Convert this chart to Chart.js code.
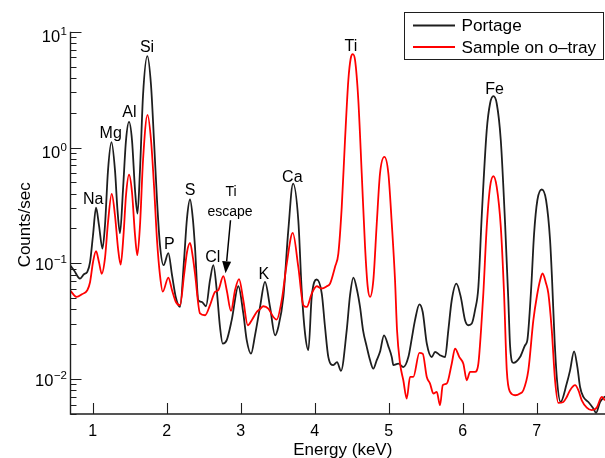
<!DOCTYPE html>
<html><head><meta charset="utf-8">
<script src="https://cdn.jsdelivr.net/npm/chart.js@4/dist/chart.umd.min.js"></script>
<style>html,body{margin:0;padding:0;background:#fff;}canvas{display:block;}</style>
</head><body>
<canvas id="c" width="605" height="458"></canvas>
<script>
// ---- data ----
const portageEnergy = [0.70,0.747,0.828,0.882,0.927,0.964,1.004,1.045,1.085,1.132,1.166,1.207,1.254,1.301,1.335,1.369,1.409,1.450,1.491,1.531,1.572,1.605,1.639,1.680,1.738,1.788,1.828,1.869,1.909,1.957,2.022,2.072,2.126,2.180,2.234,2.274,2.315,2.355,2.382,2.427,2.473,2.531,2.585,2.630,2.676,2.720,2.757,2.811,2.878,2.968,3.035,3.081,3.139,3.193,3.261,3.328,3.396,3.464,3.508,3.576,3.643,3.707,3.778,3.824,3.869,3.914,3.959,4.027,4.095,4.139,4.184,4.251,4.301,4.355,4.432,4.477,4.522,4.572,4.612,4.653,4.703,4.747,4.792,4.838,4.882,4.936,4.995,5.041,5.062,5.130,5.197,5.265,5.311,5.355,5.414,5.459,5.514,5.581,5.626,5.693,5.761,5.805,5.851,5.914,5.973,6.031,6.076,6.122,6.166,6.211,6.257,6.324,6.369,6.414,6.459,6.514,6.572,6.616,6.639,6.684,6.774,6.842,6.873,6.923,6.964,7.008,7.068,7.126,7.180,7.207,7.241,7.274,7.322,7.405,7.450,7.504,7.549,7.585,7.630,7.697,7.765,7.801,7.855,7.922];
const portageCounts = [0.0950,0.0872,0.0739,0.0805,0.0843,0.1022,0.1748,0.302,0.213,0.134,0.213,0.637,1.111,0.637,0.287,0.182,0.428,1.156,1.664,1.156,0.428,0.269,0.637,2.829,6.143,3.451,1.156,0.3505,0.1433,0.0963,0.1223,0.0789,0.0499,0.0420,0.1064,0.245,0.3556,0.2356,0.1385,0.0480,0.0464,0.0426,0.0715,0.0963,0.0586,0.0282,0.0203,0.0217,0.0323,0.0634,0.0369,0.0217,0.0166,0.0239,0.0420,0.0691,0.0420,0.0239,0.0282,0.0513,0.1932,0.487,0.2356,0.0586,0.0248,0.0178,0.0513,0.0725,0.0548,0.0282,0.0155,0.0132,0.0140,0.0118,0.0264,0.0530,0.0754,0.0586,0.0420,0.0264,0.0190,0.0146,0.0123,0.0146,0.0172,0.0239,0.0192,0.0155,0.0132,0.0136,0.0127,0.0155,0.0224,0.0323,0.0443,0.0380,0.0203,0.0155,0.0172,0.0161,0.0155,0.0264,0.0480,0.0669,0.0513,0.0323,0.0292,0.0302,0.0394,0.0625,0.260,1.411,2.399,2.773,2.399,1.156,0.2207,0.0480,0.0196,0.0138,0.0155,0.0196,0.0217,0.0586,0.181,0.3505,0.434,0.3505,0.1583,0.0715,0.0217,0.00978,0.00635,0.00916,0.0119,0.0174,0.0127,0.00856,0.00702,0.00635,0.00557,0.00511,0.00635,0.00712];
const sampleEnergy = [0.70,0.784,0.855,0.927,0.964,1.004,1.045,1.085,1.122,1.166,1.207,1.257,1.301,1.342,1.378,1.416,1.450,1.491,1.531,1.572,1.603,1.639,1.680,1.741,1.788,1.828,1.869,1.909,1.946,2.022,2.072,2.126,2.180,2.234,2.274,2.315,2.355,2.382,2.450,2.518,2.585,2.653,2.697,2.765,2.811,2.869,2.923,2.977,3.035,3.095,3.149,3.216,3.261,3.305,3.373,3.441,3.486,3.554,3.622,3.703,3.778,3.846,3.892,3.959,4.027,4.095,4.162,4.207,4.274,4.319,4.365,4.409,4.454,4.486,4.514,4.545,4.589,4.635,4.680,4.716,4.747,4.792,4.838,4.882,4.941,4.995,5.041,5.085,5.112,5.153,5.197,5.243,5.288,5.332,5.414,5.459,5.514,5.558,5.603,5.649,5.693,5.730,5.784,5.851,5.896,5.954,6.008,6.054,6.099,6.166,6.211,6.247,6.278,6.324,6.369,6.414,6.459,6.514,6.558,6.595,6.639,6.707,6.774,6.819,6.886,6.954,7.004,7.045,7.078,7.126,7.157,7.203,7.247,7.292,7.359,7.405,7.450,7.518,7.562,7.608,7.676,7.743,7.811,7.878,7.922];
const sampleCounts = [0.0578,0.0513,0.0541,0.0586,0.0687,0.1022,0.1272,0.1022,0.0813,0.1107,0.2264,0.3975,0.260,0.135,0.0976,0.1748,0.3873,0.582,0.411,0.1748,0.1175,0.213,0.777,1.912,1.156,0.4726,0.1583,0.0789,0.0569,0.0754,0.0586,0.0461,0.0435,0.0789,0.1247,0.150,0.1107,0.0817,0.0369,0.0356,0.0435,0.0566,0.0586,0.0774,0.0586,0.0388,0.0586,0.0729,0.0480,0.0292,0.0323,0.0380,0.0402,0.0426,0.0407,0.0344,0.0327,0.0480,0.0996,0.183,0.0931,0.0435,0.0420,0.0548,0.0634,0.0606,0.0634,0.0669,0.0931,0.1215,0.307,1.156,3.813,5.869,6.393,5.674,2.561,0.5963,0.1385,0.0625,0.0513,0.0715,0.2207,0.5963,0.8295,0.5963,0.2207,0.0715,0.0264,0.0136,0.00978,0.00680,0.01045,0.01045,0.01684,0.0166,0.01045,0.00916,0.00751,0.00775,0.00595,0.00886,0.00916,0.0136,0.01837,0.0155,0.0136,0.00978,0.01154,0.01154,0.0136,0.0264,0.0548,0.2062,0.4568,0.565,0.4568,0.2062,0.0548,0.0119,0.00775,0.00726,0.00751,0.00802,0.0119,0.0323,0.0530,0.0715,0.0817,0.0669,0.0548,0.0264,0.00978,0.00623,0.00635,0.00702,0.00802,0.00886,0.00802,0.00657,0.00568,0.00539,0.00568,0.00702,0.00657];
const seriesNames = ['Portage', 'Sample on o\u2013tray'];
const xTickValues = [1, 2, 3, 4, 5, 6, 7];
const yTickExponents = [-2, -1, 0, 1];
const peakLabels = ['Na', 'Mg', 'Al', 'Si', 'P', 'S', 'Cl', 'K', 'Ca', 'Ti', 'Fe'];
const peakLabelEnergy = [1.008, 1.243, 1.495, 1.734, 2.035, 2.315, 2.622, 3.311, 3.697, 4.489, 6.430];
const peakLabelCounts = [0.365, 1.356, 2.07, 7.53, 0.149, 0.436, 0.1163, 0.0817, 0.568, 7.65, 3.232];
const escapeLines = ['Ti', 'escape'];
const escapeEnergy = [2.869, 2.855];
const escapeCounts = [0.4218, 0.2818];
const arrowEnergy = [2.862, 2.795];   // tail, head
const arrowCounts = [0.2356, 0.0821];
const xTitle = 'Energy (keV)';
const yTitle = 'Counts/sec';

// ---- drawing ----
const FONT = '"Liberation Sans", Arial, Helvetica, sans-serif';
const INK = '#1e1e1e';
const colors = ['#1e1e1e', '#ff0000'];

const overlay = {
  id: 'overlay',
  afterDraw(chart) {
    const {ctx, chartArea: a, scales: {x, y}} = chart;
    ctx.save();
    ctx.strokeStyle = INK;
    ctx.fillStyle = '#000';
    // y ticks (major + minor), pointing inward
    ctx.lineWidth = 1.1;
    ctx.beginPath();
    for (let e = -3; e <= 1; e++) {
      for (let m = 1; m <= 9; m++) {
        const v = m * Math.pow(10, e);
        if (v < y.min * 0.999 || v > y.max * 1.001) continue;
        const py = Math.round(y.getPixelForValue(v)) + 0.5;
        const len = m === 1 ? 11 : 6;
        ctx.moveTo(a.left, py); ctx.lineTo(a.left + len, py);
      }
    }
    xTickValues.forEach(t => {
      const px = Math.round(x.getPixelForValue(t)) + 0.5;
      ctx.moveTo(px, a.bottom); ctx.lineTo(px, a.bottom - 11);
    });
    ctx.stroke();
    // axis lines
    ctx.lineWidth = 1.4;
    ctx.beginPath();
    ctx.moveTo(a.left, a.top); ctx.lineTo(a.left, a.bottom); ctx.lineTo(a.right, a.bottom);
    ctx.stroke();

    // x tick labels
    ctx.font = '16px ' + FONT;
    ctx.textAlign = 'center'; ctx.textBaseline = 'alphabetic';
    xTickValues.forEach(t => ctx.fillText(String(t), x.getPixelForValue(t), a.bottom + 21.5));

    // y tick labels 10^n
    yTickExponents.forEach(ex => {
      const py = y.getPixelForValue(Math.pow(10, ex));
      const sup = ex < 0 ? '\u2212' + (-ex) : String(ex);
      ctx.font = '11.5px ' + FONT; const ws = ctx.measureText(sup).width;
      ctx.font = '16.5px ' + FONT; const wb = ctx.measureText('10').width;
      const right = a.left - 3.5;
      const baseY = ex >= 0 ? py + 10.5 : py + 7;
      ctx.textAlign = 'left';
      ctx.fillText('10', right - ws - wb - 0.5, baseY);
      ctx.font = '11.5px ' + FONT;
      ctx.fillText(sup, right - ws, baseY - 7.5);
    });

    // axis titles
    ctx.font = '17px ' + FONT;
    ctx.textAlign = 'center';
    ctx.fillText(xTitle, (a.left + a.right) / 2 + 5, a.bottom + 41);
    ctx.save();
    ctx.translate(30, (a.top + a.bottom) / 2 + 2);
    ctx.rotate(-Math.PI / 2);
    ctx.fillText(yTitle, 0, 0);
    ctx.restore();

    // peak labels
    ctx.font = '16px ' + FONT;
    ctx.textAlign = 'center';
    peakLabels.forEach((t, i) => {
      ctx.fillText(t, x.getPixelForValue(peakLabelEnergy[i]), y.getPixelForValue(peakLabelCounts[i]) + 5.8);
    });
    ctx.font = '14px ' + FONT;
    escapeLines.forEach((t, i) => {
      ctx.fillText(t, x.getPixelForValue(escapeEnergy[i]), y.getPixelForValue(escapeCounts[i]) + 5);
    });
    // arrow
    const x0 = x.getPixelForValue(arrowEnergy[0]), y0 = y.getPixelForValue(arrowCounts[0]);
    const x1 = x.getPixelForValue(arrowEnergy[1]), y1 = y.getPixelForValue(arrowCounts[1]);
    const ang = Math.atan2(y1 - y0, x1 - x0);
    const hl = 12, hw = 4.5;
    const bx = x1 - hl * Math.cos(ang), by = y1 - hl * Math.sin(ang);
    ctx.strokeStyle = '#000'; ctx.lineWidth = 1.5;
    ctx.beginPath(); ctx.moveTo(x0, y0); ctx.lineTo(bx, by); ctx.stroke();
    ctx.beginPath();
    ctx.moveTo(x1, y1);
    ctx.lineTo(bx + hw * Math.sin(ang), by - hw * Math.cos(ang));
    ctx.lineTo(bx - hw * Math.sin(ang), by + hw * Math.cos(ang));
    ctx.closePath(); ctx.fill();

    // legend box
    const lx = 404.5, ly = 12.5, lw = 199, lh = 47;
    ctx.fillStyle = '#fff';
    ctx.fillRect(lx, ly, lw, lh);
    ctx.strokeStyle = INK; ctx.lineWidth = 1;
    ctx.strokeRect(lx, ly, lw, lh);
    ctx.font = '17.2px ' + FONT;
    ctx.textAlign = 'left';
    const rows = [25.5, 47];
    const bases = [31.3, 52.8];
    seriesNames.forEach((n, i) => {
      ctx.strokeStyle = colors[i]; ctx.lineWidth = 1.8;
      ctx.beginPath(); ctx.moveTo(413, rows[i]); ctx.lineTo(455, rows[i]); ctx.stroke();
      ctx.fillStyle = '#000';
      ctx.fillText(n, 461.5, bases[i]);
    });
    ctx.restore();
  }
};

new Chart(document.getElementById('c'), {
  type: 'line',
  data: {
    datasets: [
      { label: seriesNames[0], data: portageEnergy.map((e, i) => ({x: e, y: portageCounts[i]})),
        borderColor: colors[0], borderWidth: 1.8, pointRadius: 0, fill: false,
        cubicInterpolationMode: 'monotone', order: 1 },
      { label: seriesNames[1], data: sampleEnergy.map((e, i) => ({x: e, y: sampleCounts[i]})),
        borderColor: colors[1], borderWidth: 1.8, pointRadius: 0, fill: false,
        cubicInterpolationMode: 'monotone', order: 0 }
    ]
  },
  options: {
    responsive: false,
    animation: false,
    devicePixelRatio: 1,
    layout: { padding: { top: 31.7, left: 0, right: 0, bottom: 0 } },
    plugins: { legend: { display: false }, tooltip: { enabled: false } },
    scales: {
      x: { type: 'linear', min: 0.7, max: 7.922,
           ticks: { display: false }, grid: { display: false }, border: { display: false },
           afterFit(s) { s.height = 44; } },
      y: { type: 'logarithmic', min: 0.005, max: 10,
           ticks: { display: false }, grid: { display: false }, border: { display: false },
           afterFit(s) { s.width = 70.5; } }
    }
  },
  plugins: [overlay]
});
</script>
</body></html>
